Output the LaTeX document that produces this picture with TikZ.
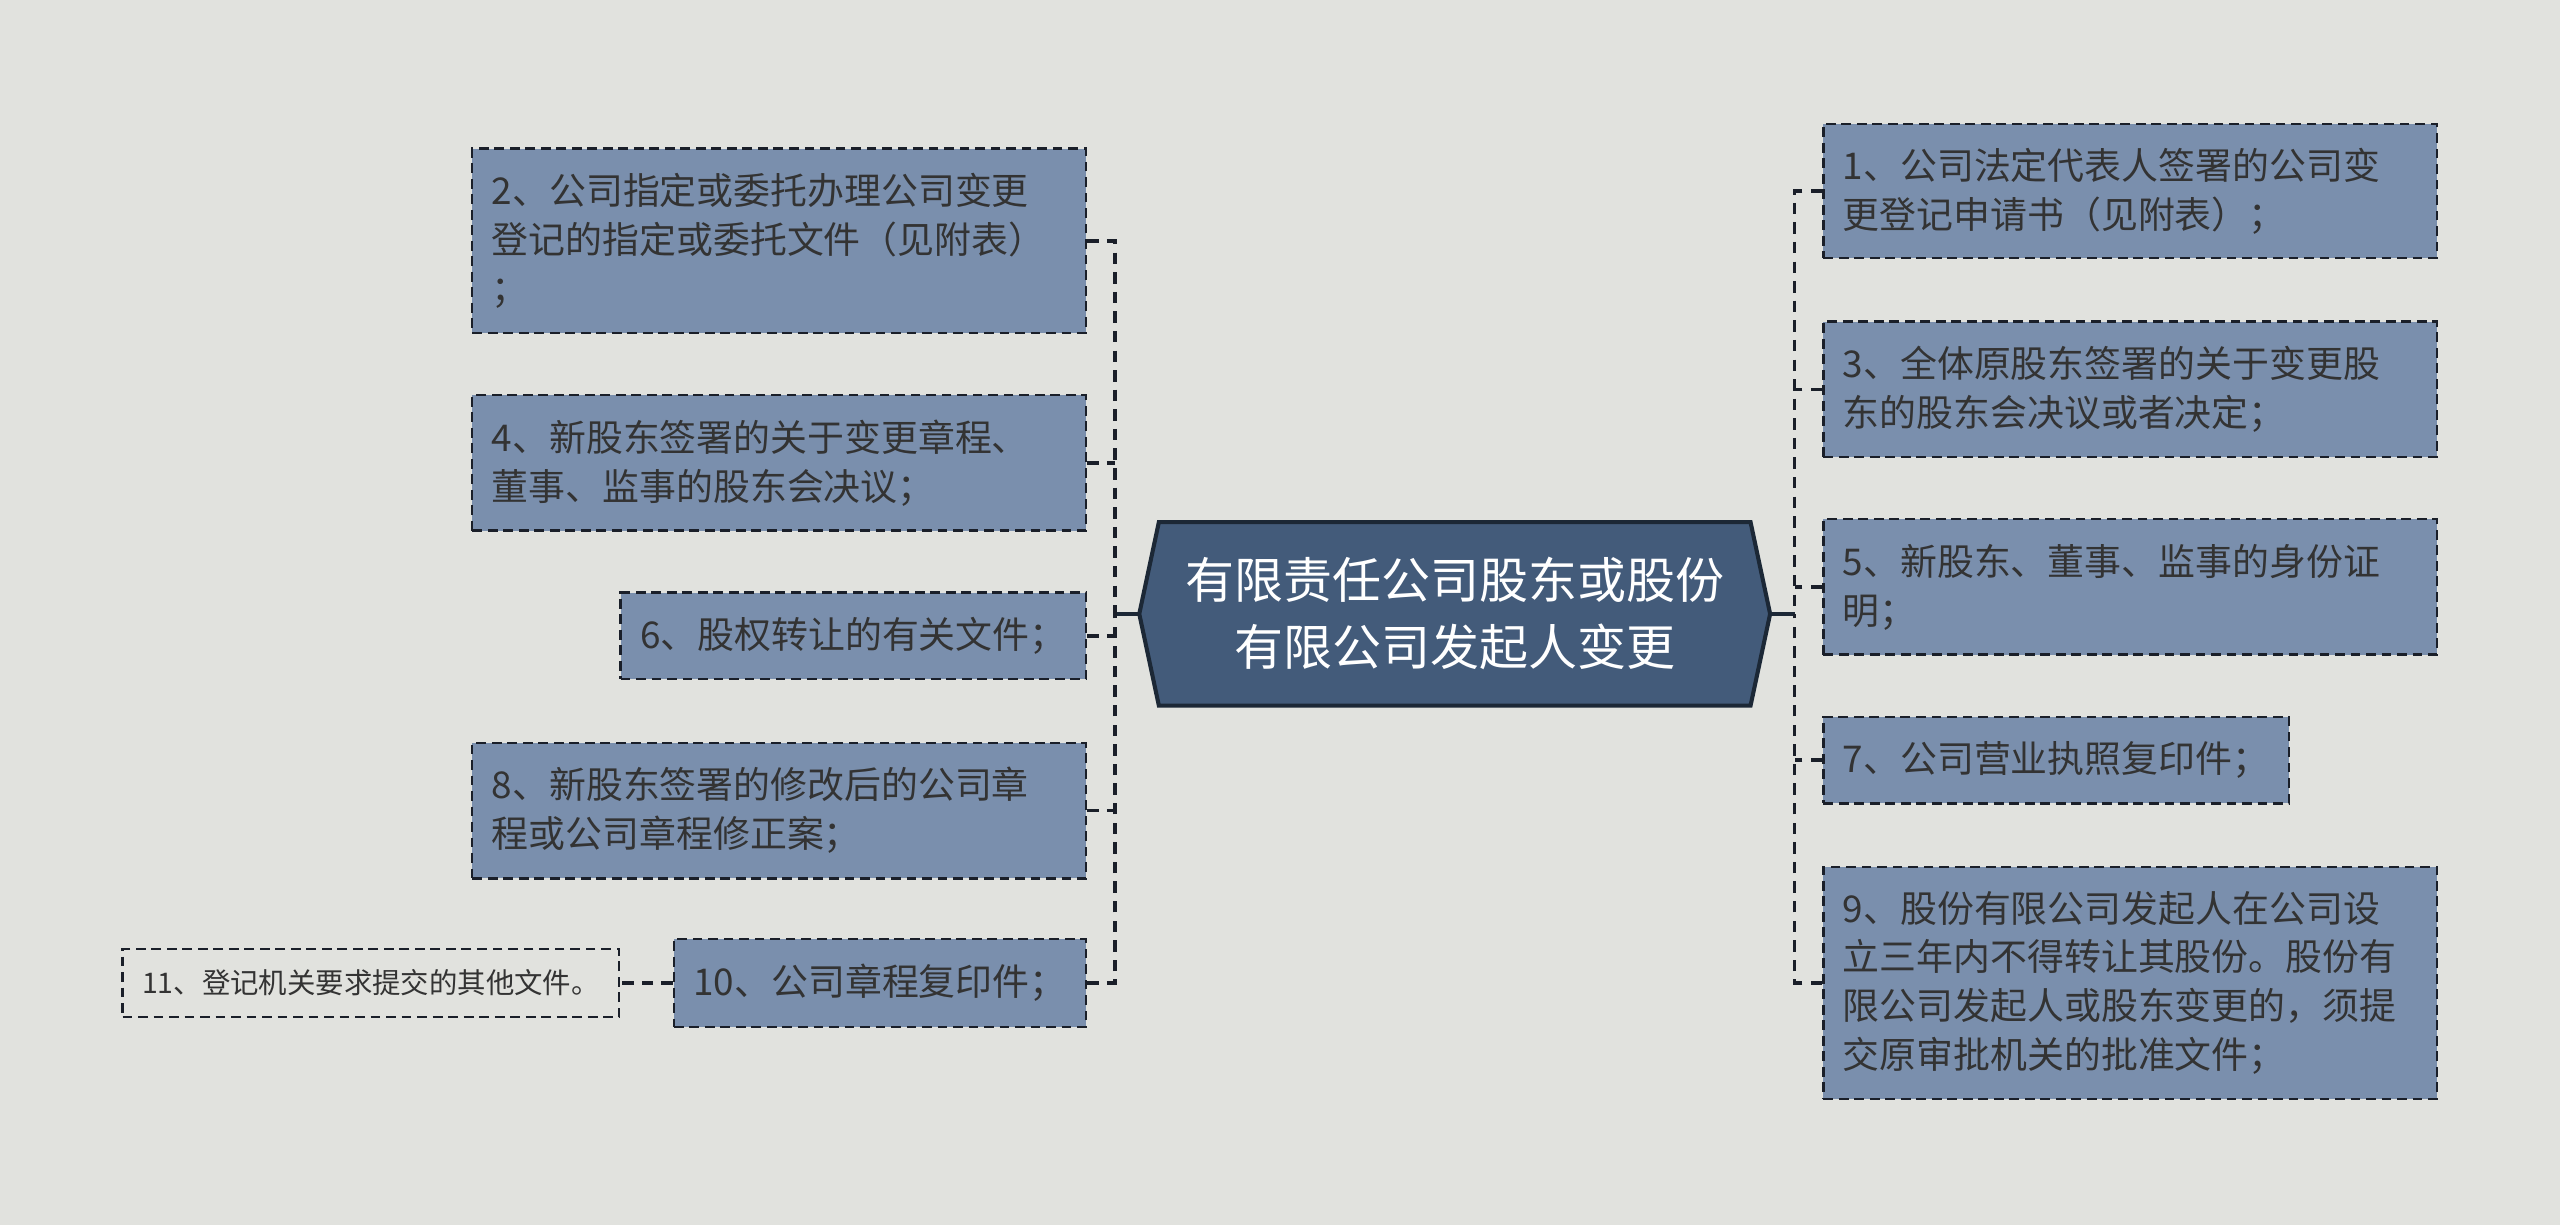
\documentclass[tikz,border=0pt]{standalone}
\usepackage{fontspec}
\setmainfont{Noto Sans CJK SC}
\usetikzlibrary{positioning, backgrounds}

\definecolor{canvasgray}{RGB}{225,226,222}
\definecolor{rootblue}{RGB}{67,91,122}
\definecolor{rootedge}{RGB}{28,40,54}
\definecolor{leafblue}{RGB}{122,143,173}
\definecolor{leaftext}{RGB}{51,51,51}
\definecolor{dashdark}{RGB}{26,31,41}

\begin{document}
\begin{tikzpicture}
    [
        x=1pt, y=-1pt,
        root_node/.style={minimum width=386pt, minimum height=112pt, inner sep=0pt, align=center, text=white, font=\fontsize{30}{41}\selectfont},
        leaf_node/.style={rectangle, draw=dashdark, fill=leafblue, line width=1.5pt, dash pattern=on 6pt off 3.5pt, inner xsep=12pt, inner ysep=0pt, align=left, text=leaftext, font=\fontsize{22.6}{30}\selectfont},
        wide_leaf/.style={leaf_node, text width=352pt},
        plain_leaf/.style={rectangle, draw=dashdark, line width=1.3pt, dash pattern=on 6pt off 3.5pt, inner xsep=12pt, inner ysep=0pt, text=leaftext, font=\fontsize{17.4}{22}\selectfont},
        link/.style={draw=dashdark, line width=2.2pt, dash pattern=on 7pt off 5pt},
        stem/.style={draw=rootedge, line width=2.4pt},
    ]
        \node[root_node] (root) at (891,376) {有限责任公司股东或股份\\有限公司发起人变更} ;

        \node[wide_leaf, anchor=east, minimum height=113pt] (b2) at (666,147.5) {2、公司指定或委托办理公司变更\\登记的指定或委托文件（见附表）\\；} ;
        \node[wide_leaf, anchor=east, minimum height=83pt] (b4) at (666,283.5) {4、新股东签署的关于变更章程、\\董事、监事的股东会决议；} ;
        \node[leaf_node, anchor=east, minimum height=53pt] (b6) at (666,389.5) {6、股权转让的有关文件；} ;
        \node[wide_leaf, anchor=east, minimum height=83pt] (b8) at (666,496.5) {8、新股东签署的修改后的公司章\\程或公司章程修正案；} ;
        \node[leaf_node, anchor=east, minimum height=54pt] (b10) at (666,602) {10、公司章程复印件；} ;
        \node[plain_leaf, anchor=east, minimum height=42pt] (b11) at (380,602) {11、登记机关要求提交的其他文件。} ;

        \node[wide_leaf, anchor=west, minimum height=82pt] (b1) at (1116,117) {1、公司法定代表人签署的公司变\\更登记申请书（见附表）；} ;
        \node[wide_leaf, anchor=west, minimum height=83pt] (b3) at (1116,238.5) {3、全体原股东签署的关于变更股\\东的股东会决议或者决定；} ;
        \node[wide_leaf, anchor=west, minimum height=83pt] (b5) at (1116,359.5) {5、新股东、董事、监事的身份证\\明；} ;
        \node[leaf_node, anchor=west, minimum height=53pt] (b7) at (1116,465.5) {7、公司营业执照复印件；} ;
        \node[wide_leaf, anchor=west, minimum height=142pt] (b9) at (1116,602) {9、股份有限公司发起人在公司设\\立三年内不得转让其股份。股份有\\限公司发起人或股东变更的，须提\\交原审批机关的批准文件；} ;

        \begin{scope}[on background layer]
            \fill[canvasgray] (0,0) rectangle (1568,750) ;
            \draw[fill=rootblue, draw=rootedge, line width=2.5pt, line join=miter]
                ([xshift=12pt]root.north west) -- ([xshift=-12pt]root.north east) -- (root.east)
                -- ([xshift=-12pt]root.south east) -- ([xshift=12pt]root.south west) -- (root.west) -- cycle ;
        \end{scope}

        \draw[stem] (root.west) -- ++(-15,0) coordinate (lj) ;
        \draw[stem] (root.east) -- ++(15,0) coordinate (rj) ;

        \draw[link] (b2.east) -| (lj) ;
        \draw[link] (b10.east) -| (lj) ;
        \draw[link] (b4.east) -- (b4.east -| lj) ;
        \draw[link] (b6.east) -- (b6.east -| lj) ;
        \draw[link] (b8.east) -- (b8.east -| lj) ;
        \draw[link] (b10.west) -- (b11.east) ;

        \draw[link] (b1.west) -| (rj) ;
        \draw[link] (b9.west) -| (rj) ;
        \draw[link] (b3.west) -- (b3.west -| rj) ;
        \draw[link] (b5.west) -- (b5.west -| rj) ;
        \draw[link] (b7.west) -- (b7.west -| rj) ;

        \useasboundingbox (0,0) rectangle (1568,750) ;
    \end{tikzpicture}
\end{document}
